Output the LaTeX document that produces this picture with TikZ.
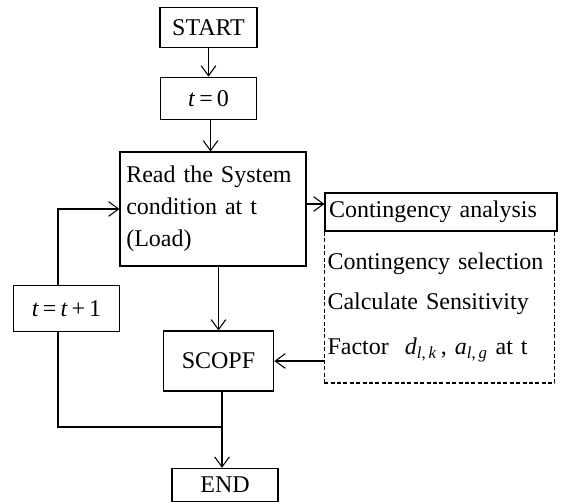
\documentclass[tikz,border=0pt]{standalone}
\usepackage{fontspec}
\setmainfont{Liberation Serif}
\usetikzlibrary{arrows.meta,calc}

\tikzset{
	box/.style={draw, line width=0.8pt, inner sep=0pt, font=\fontsize{18}{24}\selectfont},
	flow/.style={line width=0.8pt}
}

\begin{document}
\begin{tikzpicture}[x=0.75pt, y=-0.75pt, >={Straight Barb[length=7.5pt,width=11pt]}]
	
	\useasboundingbox (0,0) rectangle (563,503);
	
	% main column
	\node[box, minimum width=72.75pt, minimum height=30.5pt] (start) at (208.5,27.5) {START};
	\node[box, minimum width=71.5pt, minimum height=32pt] (init) at (208.5,98.5) {\textit{t}\,=\,0};
	\node[box, minimum width=139.5pt, minimum height=85.5pt, text width=130pt, align=left] (read) at (213,209)
		{Read the System\\condition at t\\(Load)};
	\node[box, minimum width=83pt, minimum height=45pt] (scopf) at (218.5,361) {SCOPF};
	\node[box, minimum width=79.5pt, minimum height=25pt] (stop) at (225,485) {END};
	
	% time step
	\node[box, minimum width=80pt, minimum height=35pt] (update) at (66.5,308.5) {\textit{t}\,=\,\textit{t}\,+\,1};
	
	% contingency part
	\node[box, minimum width=174pt, minimum height=28.5pt, text width=168pt, align=left] (conting) at (441,212)
		{Contingency analysis};
	\node[box, dash pattern=on 3pt off 1.8pt, minimum width=173pt, minimum height=114pt,
		text width=168pt, align=left, font=\fontsize{18}{30}\selectfont] (factors) at (439.5,307)
		{Contingency selection\\Calculate Sensitivity\\[4pt]
		 Factor \ \textit{d}\textsubscript{\textit{l},\,\textit{k}}\,, \textit{a}\textsubscript{\textit{l},\,\textit{g}} at t};
	
	% junctions of the loop
	\coordinate (join) at (222,427);
	\coordinate (loop) at (58,427);
	
	% arrows
	\draw[flow,->] (start) -- (init);
	\draw[flow,->] ([xshift=1.5pt]init.south) -- ([xshift=1.5pt]init.south |- read.north);
	\draw[flow,->] ([yshift=3.75pt]read.east) -- ([yshift=3.75pt]read.east -| conting.west);
	\draw[flow,->] (read.south -| scopf.north) -- (scopf.north);
	\draw[flow,->] (factors.west |- scopf.east) -- (scopf.east);
	\draw[flow,->] (join |- scopf.south) -- (join |- stop.north);
	\draw[flow] (join) -- (loop) -- (loop |- update.south);
	\draw[flow,->] (loop |- update.north) -- (loop |- read.west) -- (read.west);
	
\end{tikzpicture}
\end{document}
